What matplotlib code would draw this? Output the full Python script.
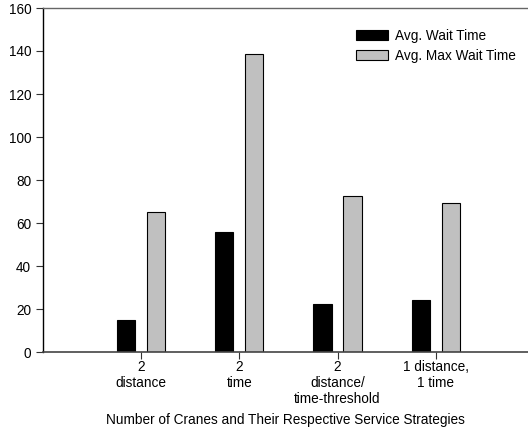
import numpy as np
import matplotlib
matplotlib.use('Agg')
from matplotlib import pyplot as plt

categories = ["2\ndistance", "2\ntime", "2\ndistance/\ntime-threshold", "1 distance,\n1 time"]
avg_wait = [15, 56, 22.5, 24]
avg_max_wait = [65, 138.5, 72.5, 69.5]

plt.rcParams['font.family'] = ['Liberation Sans', 'DejaVu Sans']
plt.rcParams['font.size'] = 9.8

fig = plt.figure(figsize=(5.28, 4.36), dpi=100)
ax = fig.add_axes([43 / 528, 1 - 352 / 436, 1 - 43 / 528, 344 / 436])

x = np.arange(1, len(categories) + 1)
ax.bar(x - 0.153, avg_wait, width=0.185, color='black', edgecolor='black',
       linewidth=0.8, label='Avg. Wait Time')
ax.bar(x + 0.153, avg_max_wait, width=0.185, color='#c0c0c0', edgecolor='black',
       linewidth=0.8, label='Avg. Max Wait Time')

ax.set_xlim(0, 4.94)
ax.set_ylim(0, 160)
ax.set_yticks(range(0, 161, 20))
ax.set_xticks(x)
ax.set_xticklabels(categories, linespacing=1.2)
ax.tick_params(axis='both', direction='out', length=5, width=0.8, colors='#333333',
               labelcolor='black')
ax.tick_params(axis='x', pad=0.5)

ax.spines['right'].set_visible(False)
ax.spines['left'].set_color('black')
ax.spines['left'].set_linewidth(1.0)
ax.spines['bottom'].set_color('#444444')
ax.spines['bottom'].set_linewidth(1.2)
ax.spines['top'].set_color('#666666')
ax.spines['top'].set_linewidth(1.0)

ax.set_xlabel("Number of Cranes and Their Respective Service Strategies", labelpad=5)

ax.legend(loc='upper left', bbox_to_anchor=(0.645, 0.94), frameon=False,
          handlelength=2.35, handleheight=0.8, handletextpad=0.55, labelspacing=0.45,
          borderpad=0, borderaxespad=0)

fig.savefig('out.png', dpi=100)
